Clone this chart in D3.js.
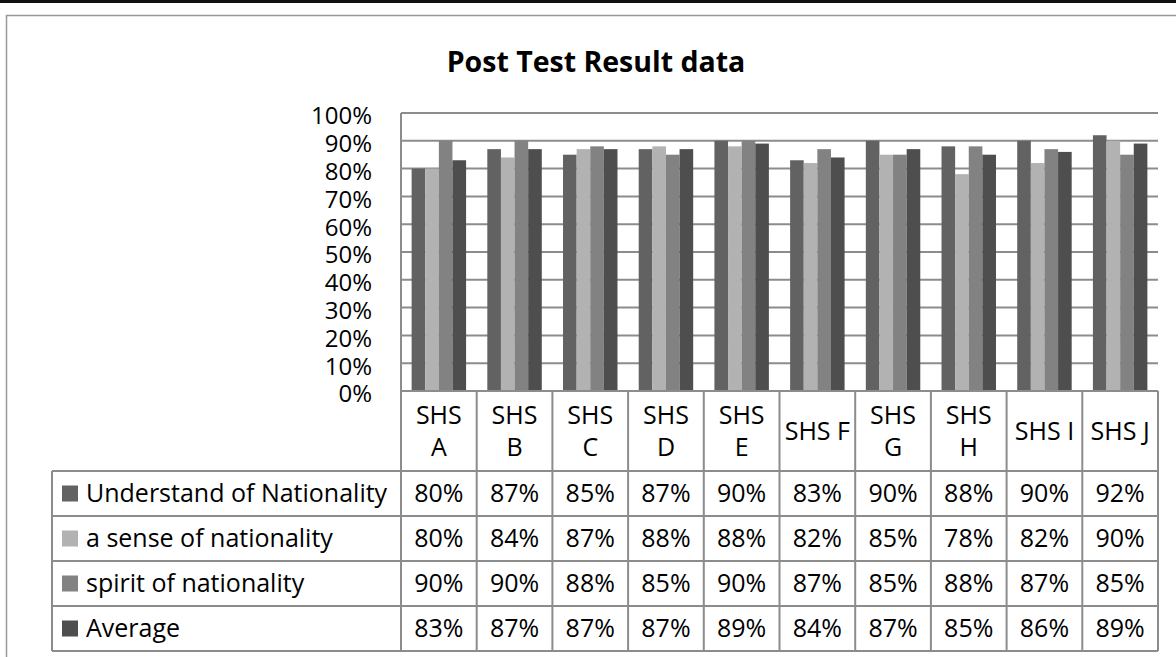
<!DOCTYPE html>
<meta charset="utf-8">
<style>
body { margin: 0; background: #fff; }
text { font-family: "Open Sans", sans-serif; fill: #000; }
</style>
<body>
<svg id="vis" width="1176" height="657"></svg>
<script src="https://d3js.org/d3.v7.min.js"></script>
<script>
var schools = ["SHS A","SHS B","SHS C","SHS D","SHS E","SHS F","SHS G","SHS H","SHS I","SHS J"];
var seriesNames = ["Understand of Nationality","a sense of nationality","spirit of nationality","Average"];
var understand = [80,87,85,87,90,83,90,88,90,92];
var sense      = [80,84,87,88,88,82,85,78,82,90];
var spirit     = [90,90,88,85,90,87,85,88,87,85];
var average    = [83,87,87,87,89,84,87,85,86,89];
var yTicks = [0,10,20,30,40,50,60,70,80,90,100];
var colours = ["#626262","#b2b2b2","#828282","#4e4e4e"];

var values = [understand, sense, spirit, average];

var svg = d3.select("#vis");
var lineCol = "#8c8c8c";
var fs = "25px";

// outer frame
svg.append("rect").attr("x",0).attr("y",0).attr("width",1176).attr("height",3).attr("fill","#111");
svg.append("line").attr("x1",6).attr("x2",1176).attr("y1",15.5).attr("y2",15.5).attr("stroke","#999").attr("stroke-width",1.5);
svg.append("line").attr("x1",6.5).attr("x2",6.5).attr("y1",15).attr("y2",657).attr("stroke","#999").attr("stroke-width",1.5);

svg.append("text").attr("x",596).attr("y",72).attr("text-anchor","middle")
  .style("font-weight","bold").style("font-size","28.5px").text("Post Test Result data");

var plotL = 401, plotR = 1158, plotT = 113, base = 391;
var x = d3.scaleBand().domain(schools).range([plotL, plotR]);
var y = d3.scaleLinear().domain([0,100]).range([base, plotT]);
var inner = d3.scaleBand().domain(d3.range(4)).range([0, x.bandwidth()]).paddingOuter(0.78).paddingInner(0);

var g = svg.append("g");

// gridlines
g.selectAll(".grid").data(yTicks.slice(1)).enter().append("line")
  .attr("x1",plotL).attr("x2",plotR)
  .attr("y1",function(d){return y(d);}).attr("y2",function(d){return y(d);})
  .attr("stroke",lineCol).attr("stroke-width",2);

// y axis labels
g.selectAll(".ytick").data(yTicks).enter().append("text")
  .attr("x",372).attr("y",function(d){return y(d) + 3;}).attr("dy","0.35em")
  .attr("text-anchor","end").style("font-size","24px")
  .text(function(d){return d + "%";});

// bars
values.forEach(function(arr, si){
  g.selectAll(".bar" + si).data(arr).enter().append("rect")
    .attr("x",function(d,i){return x(schools[i]) + inner(si);})
    .attr("width",inner.bandwidth())
    .attr("y",function(d){return y(d);})
    .attr("height",function(d){return base - y(d);})
    .attr("fill",colours[si]);
});

// data table
var headBottom = 471, rowH = 45;
var labelLeft = 52;
var tableBottom = headBottom + rowH * seriesNames.length;

var t = svg.append("g");
t.append("line").attr("x1",plotL).attr("x2",plotR).attr("y1",base).attr("y2",base).attr("stroke",lineCol).attr("stroke-width",2);
d3.range(seriesNames.length + 1).forEach(function(r){
  var yy = headBottom + r * rowH;
  t.append("line").attr("x1",labelLeft).attr("x2",plotR).attr("y1",yy).attr("y2",yy).attr("stroke",lineCol).attr("stroke-width",2);
});
t.append("line").attr("x1",plotL).attr("x2",plotL).attr("y1",plotT).attr("y2",tableBottom).attr("stroke",lineCol).attr("stroke-width",2);
t.append("line").attr("x1",labelLeft).attr("x2",labelLeft).attr("y1",headBottom).attr("y2",tableBottom).attr("stroke",lineCol).attr("stroke-width",2);
schools.forEach(function(s){
  var xx = x(s) + x.bandwidth();
  t.append("line").attr("x1",xx).attr("x2",xx).attr("y1",base).attr("y2",tableBottom).attr("stroke",lineCol).attr("stroke-width",2);
});

// header labels
schools.forEach(function(s){
  var cx = x(s) + x.bandwidth()/2;
  var parts = s.split(" ");
  var single = ["F","I","J"].indexOf(parts[1]) >= 0;
  var txt = t.append("text").attr("text-anchor","middle").style("font-size",fs);
  if (single) {
    txt.attr("x",cx).attr("y",(base + headBottom)/2).attr("dy","0.35em").text(s);
  } else {
    txt.append("tspan").attr("x",cx).attr("y",415).attr("dy","0.35em").text(parts[0]);
    txt.append("tspan").attr("x",cx).attr("y",447).attr("dy","0.35em").text(parts[1]);
  }
});

// rows
seriesNames.forEach(function(name, si){
  var cy = headBottom + si * rowH + rowH/2;
  t.append("rect").attr("x",62).attr("y",cy - 8).attr("width",16).attr("height",16).attr("fill",colours[si]);
  t.append("text").attr("x",86).attr("y",cy).attr("dy","0.35em").style("font-size",fs).text(name);
  values[si].forEach(function(v, i){
    t.append("text").attr("x",x(schools[i]) + x.bandwidth()/2).attr("y",cy).attr("dy","0.35em")
      .attr("text-anchor","middle").style("font-size",fs).text(v + "%");
  });
});
</script>
</body>
